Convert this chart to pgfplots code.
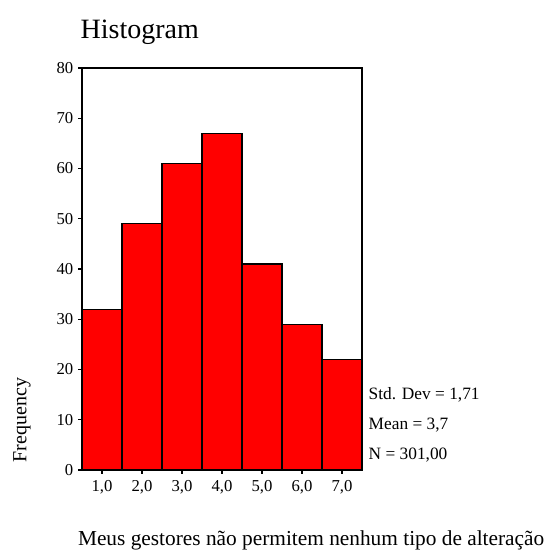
\documentclass[border=0pt]{standalone}
\usepackage{pgfplots}
\pgfplotsset{compat=1.18}
\usepackage{fontspec}
\setmainfont{Liberation Serif}

\begin{document}
\begin{tikzpicture}
\path[use as bounding box] (0,0) rectangle (411.75pt,414pt);
\begin{axis}[
  at={(61.5pt,61.5pt)}, anchor=south west,
  scale only axis, width=210pt, height=301.5pt,
  xmin=0.5, xmax=7.5, ymin=0, ymax=80,
  xtick={1,2,3,4,5,6,7},
  xticklabels={{1,0},{2,0},{3,0},{4,0},{5,0},{6,0},{7,0}},
  ytick={0,10,...,80},
  tick align=outside, tick pos=left,
  major tick length=3pt,
  tick style={black, line width=0.8pt},
  axis line style={black, line width=0.9pt},
  ticklabel style={font=\fontsize{12.5}{14}\selectfont},
  /pgf/number format/assume math mode=true,
  xticklabel style={yshift=-1pt},
]
\addplot[ybar interval, fill=red, draw=black, line width=0.8pt]
  coordinates {(0.5,32) (1.5,49) (2.5,61) (3.5,67) (4.5,41) (5.5,29) (6.5,22) (7.5,22)};
\end{axis}
\node[anchor=west, font=\fontsize{21}{24}\selectfont] at (57pt,390pt) {Histogram};
\node[rotate=90, font=\fontsize{15}{17}\selectfont] at (16.5pt,99pt) {Frequency};
\begin{scope}[every node/.style={anchor=west, font=\fontsize{13}{15}\selectfont}]
\node at (273pt,117.75pt) {Std. Dev = 1,71};
\node at (273pt,95.25pt) {Mean = 3,7};
\node at (273pt,72.75pt) {N = 301,00};
\end{scope}
\node[anchor=west, font=\fontsize{16}{18}\selectfont] at (55pt,9pt) {Meus gestores não permitem nenhum tipo de alteração};
\end{tikzpicture}
\end{document}
